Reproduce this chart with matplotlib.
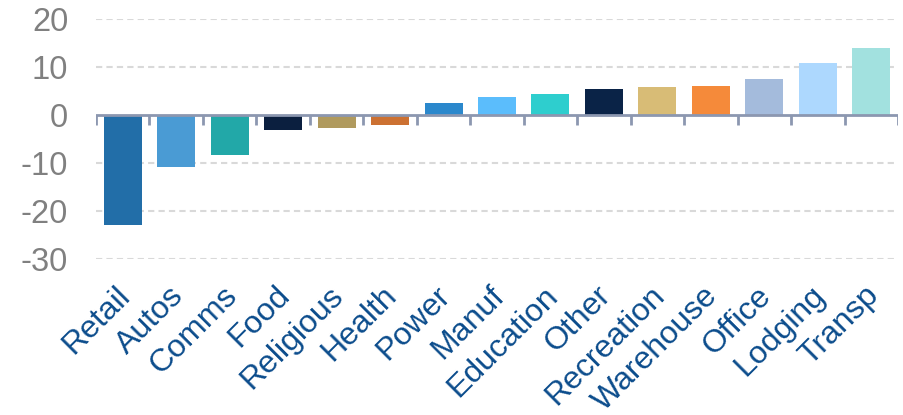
import matplotlib
matplotlib.use("Agg")
import matplotlib.pyplot as plt
import matplotlib.transforms as mtransforms
import numpy as np

categories = ["Retail", "Autos", "Comms", "Food", "Religious", "Health", "Power",
              "Manuf", "Education", "Other", "Recreation", "Warehouse", "Office",
              "Lodging", "Transp"]
values = [-22.9, -10.8, -8.3, -3.1, -2.8, -2.0, 2.5, 3.8, 4.4, 5.4, 5.8, 6.0, 7.5, 10.8, 14.0]
colors = ["#226EA8", "#4A9BD4", "#22A8A8", "#0B1F3F", "#B09A5E", "#CC7132", "#2B88CC",
          "#5BBDFC", "#2ECECE", "#0A2347", "#D8BC76", "#F58A3A", "#A4BBDC", "#ADD8FE",
          "#A2E1DF"]
yticks = [-30, -20, -10, 0, 10, 20]

plt.rcParams['font.family'] = ['Liberation Sans', 'DejaVu Sans']

fig = plt.figure(figsize=(9.04, 4.15), dpi=100)
ax = fig.add_axes([96/904, 1-259/415, 802/904, 240/415])

x = np.arange(len(categories))
ax.bar(x, values, width=0.71, color=colors, zorder=3)

ax.set_xlim(-0.5, len(categories)-0.5)
ax.set_ylim(-30, 20)
ax.set_yticks(yticks)
ax.set_yticklabels([str(t) for t in yticks])
for t in yticks:
    if t != 0:
        ax.axhline(t, color="#D9D9D9", lw=1.5, ls=(0, (3, 2)), zorder=1)

ax.axhline(0, color="#8C97B0", lw=2, zorder=4)
ax.vlines(np.arange(len(categories)+1)-0.5, -2.1, 0, color="#8C97B0", lw=2, zorder=4)

for s in ax.spines.values():
    s.set_visible(False)

ax.set_xticks(x)
ax.set_xticklabels(categories, rotation=45, ha='right', va='top', rotation_mode='anchor',
                   fontsize=23, color="#0B4C8C")
ax.tick_params(axis='x', length=0, pad=15.5)
ax.tick_params(axis='y', length=0, pad=20, labelsize=23.5, labelcolor="#808080")

offset = mtransforms.ScaledTranslation(-8/100, 0, fig.dpi_scale_trans)
for lab in ax.get_xticklabels():
    lab.set_transform(lab.get_transform() + offset)

fig.savefig("out.png", dpi=100)
